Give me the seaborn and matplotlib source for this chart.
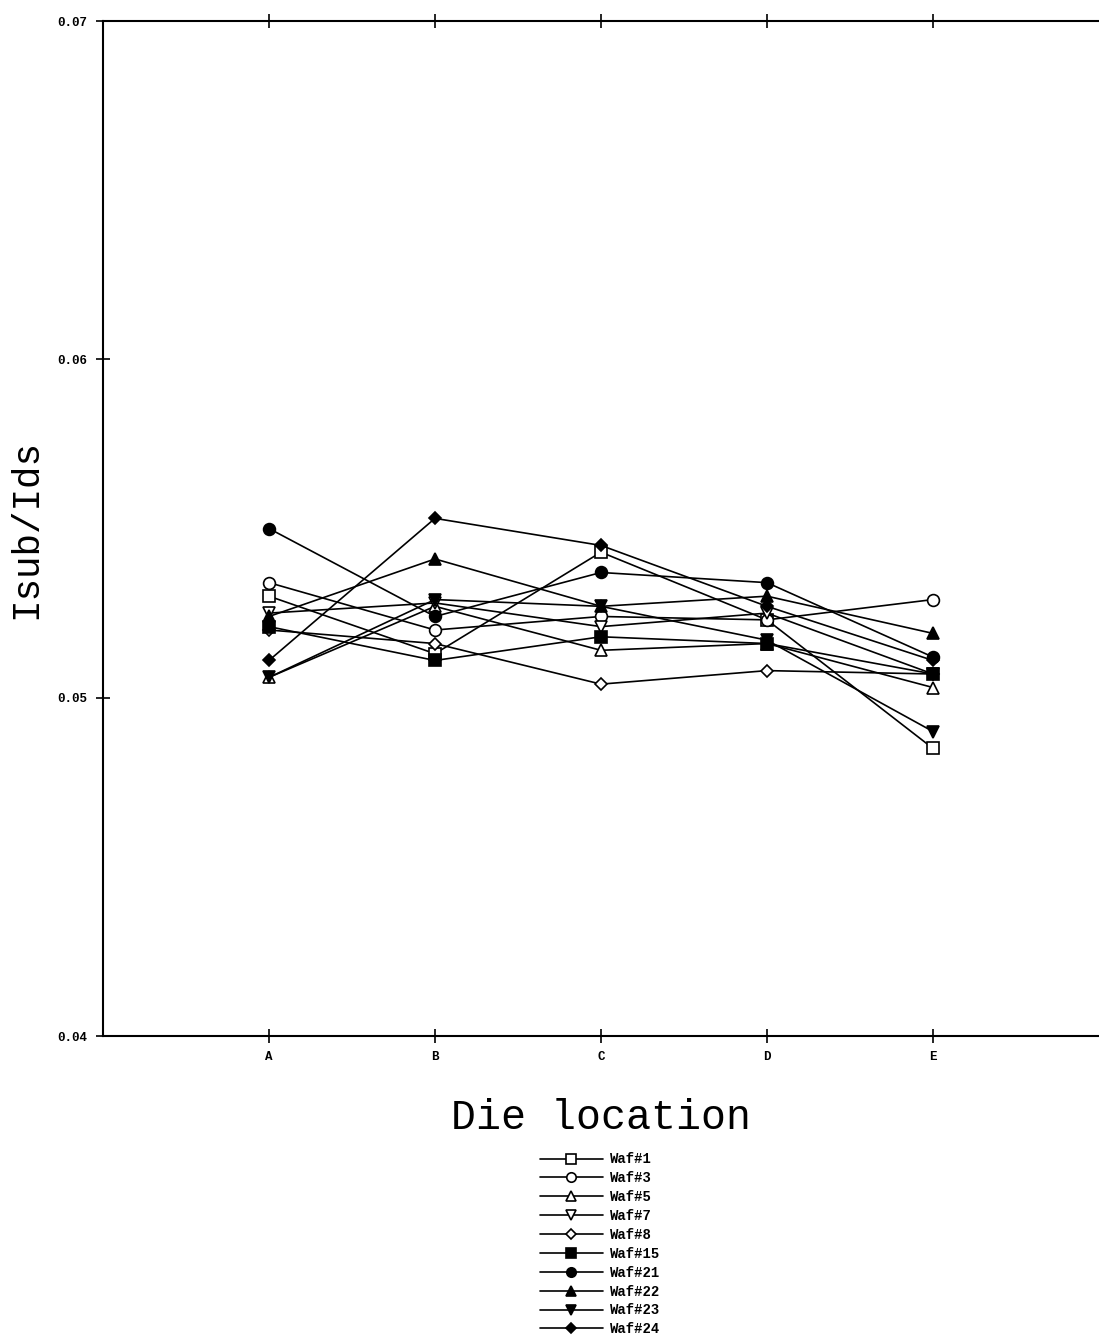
import numpy as np
import pandas as pd
import matplotlib
matplotlib.use('Agg')
import matplotlib.pyplot as plt
import seaborn as sns

sns.set_style('white')
plt.rcParams['font.family'] = ['Liberation Mono', 'DejaVu Sans Mono']
plt.rcParams['text.color'] = 'black'
plt.rcParams['axes.labelcolor'] = 'black'

dies = ['A', 'B', 'C', 'D', 'E']
wafers = ['Waf#1', 'Waf#3', 'Waf#5', 'Waf#7', 'Waf#8',
          'Waf#15', 'Waf#21', 'Waf#22', 'Waf#23', 'Waf#24']

waf1 = [0.0530, 0.0513, 0.0543, 0.0523, 0.0485]
waf3 = [0.0534, 0.0520, 0.0524, 0.0523, 0.0529]
waf5 = [0.0506, 0.0527, 0.0514, 0.0516, 0.0503]
waf7 = [0.0525, 0.0528, 0.0521, 0.0525, 0.0507]
waf8 = [0.0520, 0.0516, 0.0504, 0.0508, 0.0507]
waf15 = [0.0521, 0.0511, 0.0518, 0.0516, 0.0507]
waf21 = [0.0550, 0.0524, 0.0537, 0.0534, 0.0512]
waf22 = [0.0524, 0.0541, 0.0527, 0.0530, 0.0519]
waf23 = [0.0506, 0.0529, 0.0527, 0.0517, 0.0490]
waf24 = [0.0511, 0.0553, 0.0545, 0.0527, 0.0511]

series = [waf1, waf3, waf5, waf7, waf8, waf15, waf21, waf22, waf23, waf24]
markers = ['s', 'o', '^', 'v', 'D', 's', 'o', '^', 'v', 'D']
filled = [False] * 5 + [True] * 5

fig = plt.figure(figsize=(10.99, 13.38), dpi=100)
ax = fig.add_axes([0.0937, 0.2257, 0.9063, 0.7586])

for name, vals, mk, fl in zip(wafers, series, markers, filled):
    ms = 6 if mk == 'D' else 8.5
    sns.lineplot(x=dies, y=vals, ax=ax, sort=False, color='black', lw=1.2,
                 marker=mk, markersize=ms, mfc='black' if fl else 'white',
                 mec='black', mew=1.2, label=name)

ax.set_xlim(-1, 5)
ax.set_ylim(0.04, 0.07)
ax.set_yticks([0.04, 0.05, 0.06, 0.07])
ax.set_yticklabels(['0.04', '0.05', '0.06', '0.07'], fontsize=9, fontweight='bold')
ax.set_xticks(range(len(dies)))
ax.set_xticklabels(dies, fontsize=9, fontweight='bold')
ax.tick_params(axis='both', direction='inout', length=10, width=1.2,
               colors='black', pad=6)
ax.tick_params(axis='x', top=True, bottom=True)
ax.tick_params(axis='y', left=True)
for side in ['left', 'bottom', 'top']:
    ax.spines[side].set_color('black')
    ax.spines[side].set_linewidth(1.5)
ax.spines['right'].set_visible(False)

ax.set_xlabel('Die location', fontsize=30, labelpad=25)
ax.set_ylabel('Isub/Ids', fontsize=27, labelpad=10)

ax.legend(loc='upper center', bbox_to_anchor=(0.546, 0.148),
          bbox_transform=fig.transFigure, frameon=False,
          prop={'size': 10, 'weight': 'bold'}, handlelength=4.5,
          labelspacing=0.35, handletextpad=0.5, markerscale=0.8)

fig.savefig('out.png', dpi=100)
